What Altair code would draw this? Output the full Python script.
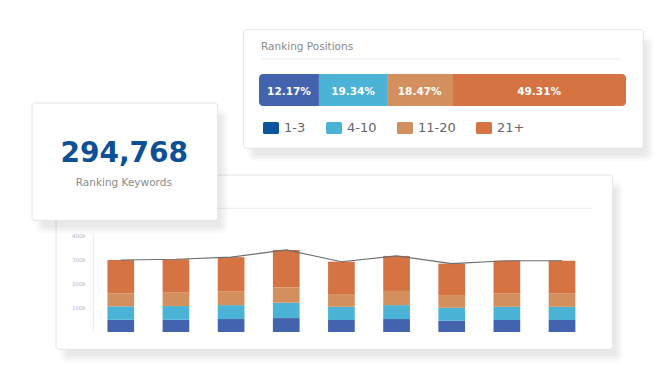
import altair as alt
import pandas as pd

FONT = "DejaVu Sans"

# ---------------- data ----------------
periods = ["P1", "P2", "P3", "P4", "P5", "P6", "P7", "P8", "P9"]
rank_groups = ["1-3", "4-10", "11-20", "21+"]
kw_1_3 = [51000, 51000, 54000, 58000, 50000, 54000, 47000, 50000, 50000]
kw_4_10 = [56000, 57000, 58000, 64000, 55000, 58000, 54000, 55000, 55000]
kw_11_20 = [54000, 56000, 58000, 63000, 53000, 59000, 53000, 55000, 55000]
kw_21_plus = [139000, 139000, 142000, 157000, 135000, 146000, 131000, 137000, 137000]
share_pct = [12.17, 19.34, 18.47, 49.31]
y_ticks = [100000, 200000, 300000, 400000]
total_keywords = "294,768"

bar_colors = ["#4363ae", "#4ab3d6", "#d48f5f", "#d57343"]
legend_colors = ["#0b559f", "#4ab3d6", "#d48f5f", "#d57343"]

series = [kw_1_3, kw_4_10, kw_11_20, kw_21_plus]
rows = []
for i, p in enumerate(periods):
    for r, g in enumerate(rank_groups):
        rows.append({"period": p, "group": g, "rank": r, "value": series[r][i]})
kw_df = pd.DataFrame(rows)
share_df = pd.DataFrame({"group": rank_groups, "rank": list(range(4)), "pct": share_pct})


# ---------------- helpers ----------------
def one():
    return alt.Chart(pd.DataFrame({"k": [0]}))


def card(x, x2, y, y2, dx=7, dy=10):
    out = []
    for grow, op, rad in [(3, 0.022, 8), (0, 0.032, 5), (-3, 0.03, 3)]:
        out.append(one().mark_rect(color="#000000", opacity=op, cornerRadius=rad).encode(
            x=alt.value(x + dx - grow), x2=alt.value(x2 + dx + grow),
            y=alt.value(y + dy - grow), y2=alt.value(y2 + dy + grow)))
    out.append(one().mark_rect(fill="#ffffff", stroke="#e4e4e4", strokeWidth=1, cornerRadius=3).encode(
        x=alt.value(x), x2=alt.value(x2), y=alt.value(y), y2=alt.value(y2)))
    return out


def sep(x, x2, y):
    return one().mark_rule(color="#ececec", strokeWidth=1).encode(
        x=alt.value(x), x2=alt.value(x2), y=alt.value(y))


def label(txt, x, y, size, color, weight="normal", align="left", baseline="alphabetic"):
    return one().mark_text(text=txt, font=FONT, fontSize=size, color=color, fontWeight=weight,
                           align=align, baseline=baseline).encode(x=alt.value(x), y=alt.value(y))


# ---------------- keyword trend chart ----------------
xs = alt.X("period:N", sort=periods, axis=None,
           scale=alt.Scale(range=[85.2, 581.6], paddingInner=0.516, paddingOuter=0.258))
ydom = alt.Scale(domain=[0, 410000], range=[324, 225.6], nice=False, zero=True)

axis_line = one().mark_rule(color="#ececec", strokeWidth=1).encode(
    x=alt.value(85.3), y=alt.Y(datum=0, scale=ydom, axis=None), y2=alt.datum(410000))
tick_text = alt.Chart(pd.DataFrame({"tick": y_ticks})).mark_text(
    align="right", baseline="middle", font=FONT, fontSize=5.5, color="#b8b8b8").encode(
    x=alt.value(77.7), y=alt.Y("tick:Q", axis=None, scale=ydom),
    text=alt.Text("tick:Q", format="~s"))
bars = alt.Chart(kw_df).mark_bar().encode(
    x=xs,
    y=alt.Y("value:Q", stack="zero", axis=None, scale=ydom),
    color=alt.Color("group:N", scale=alt.Scale(domain=rank_groups, range=bar_colors), legend=None),
    order=alt.Order("rank:Q", sort="ascending"))
line = alt.Chart(kw_df).mark_line(color="#6e6e6e", strokeWidth=1.1).encode(
    x=alt.X("period:N", sort=periods, axis=None),
    y=alt.Y("sum(value):Q", axis=None, scale=ydom))
trend = alt.layer(axis_line, tick_text, bars, line)

# ---------------- ranking positions bar ----------------
# segments get a minimum display width so that the label of a small share still fits
hb = alt.Chart(share_df).transform_calculate(
    w="max(datum.pct, 17)").transform_stack(
    stack="w", groupby=[], as_=["x0", "x1"],
    sort=[alt.SortField("rank", order="ascending")], offset="normalize")
hx = alt.X("x0:Q", axis=None, scale=alt.Scale(domain=[0, 1], range=[251, 618], nice=False))
hcolor = alt.Color("group:N", scale=alt.Scale(domain=rank_groups, range=bar_colors), legend=None)
seg_first = hb.transform_filter("datum.rank == 0").mark_rect(
    cornerRadiusTopLeft=4, cornerRadiusBottomLeft=4).encode(
    x=hx, x2="x1:Q", y=alt.value(66), y2=alt.value(98), color=hcolor)
seg_mid = hb.transform_filter("datum.rank == 1 || datum.rank == 2").mark_rect().encode(
    x=hx, x2="x1:Q", y=alt.value(66), y2=alt.value(98), color=hcolor)
seg_last = hb.transform_filter("datum.rank == 3").mark_rect(
    cornerRadiusTopRight=4, cornerRadiusBottomRight=4).encode(
    x=hx, x2="x1:Q", y=alt.value(66), y2=alt.value(98), color=hcolor)
seg_text = hb.transform_calculate(
    mid="(datum.x0 + datum.x1) / 2",
    lbl="format(datum.pct, '.2f') + '%'").mark_text(
    color="white", fontWeight="bold", font=FONT, fontSize=10.5, baseline="middle").encode(
    x=alt.X("mid:Q", axis=None), y=alt.value(84), text="lbl:N")
hbar = alt.layer(seg_first, seg_mid, seg_last, seg_text)

sym = ("M-0.8,-0.75H0.8A0.2,0.2 0 0 1 1,-0.55V0.55A0.2,0.2 0 0 1 0.8,0.75"
       "H-0.8A0.2,0.2 0 0 1 -1,0.55V-0.55A0.2,0.2 0 0 1 -0.8,-0.75Z")
legend_layer = alt.Chart(share_df).mark_rect().encode(
    x=alt.value(0), x2=alt.value(0), y=alt.value(0), y2=alt.value(0),
    color=alt.Color("group:N", scale=alt.Scale(domain=rank_groups, range=legend_colors),
                    legend=alt.Legend(orient="none", legendX=255, legendY=112, direction="horizontal",
                                      title=None, symbolType=sym, symbolSize=256, symbolStrokeWidth=0,
                                      symbolOpacity=1, labelFont=FONT, labelFontSize=13,
                                      labelColor="#666666", labelOffset=5, columnPadding=20,
                                      padding=0)))

layers = []
layers += card(48, 604.7, 167, 341.3)
layers.append(sep(66, 584.7, 200.3))
layers.append(trend)
layers += card(24, 209.7, 95, 212.5)
layers.append(label(total_keywords, 116.3, 153.7, 28, "#0d5096", weight="bold", align="center"))
layers.append(label("Ranking Keywords", 115.8, 177.7, 10.5, "#8a8a8a", align="center"))
layers += card(235.3, 635.3, 21.7, 140.3)
layers.append(label("Ranking Positions", 253, 41.5, 10.5, "#8a8a8a"))
layers.append(sep(253, 612, 51))
layers.append(hbar)
layers.append(legend_layer)

chart = alt.layer(*layers).properties(
    width=650, height=361, padding=0, autosize="none", background="white"
).resolve_scale(x="independent", y="independent", color="independent").configure_view(stroke=None)

chart.save("out.html", embed_options={"renderer": "svg", "actions": False})
